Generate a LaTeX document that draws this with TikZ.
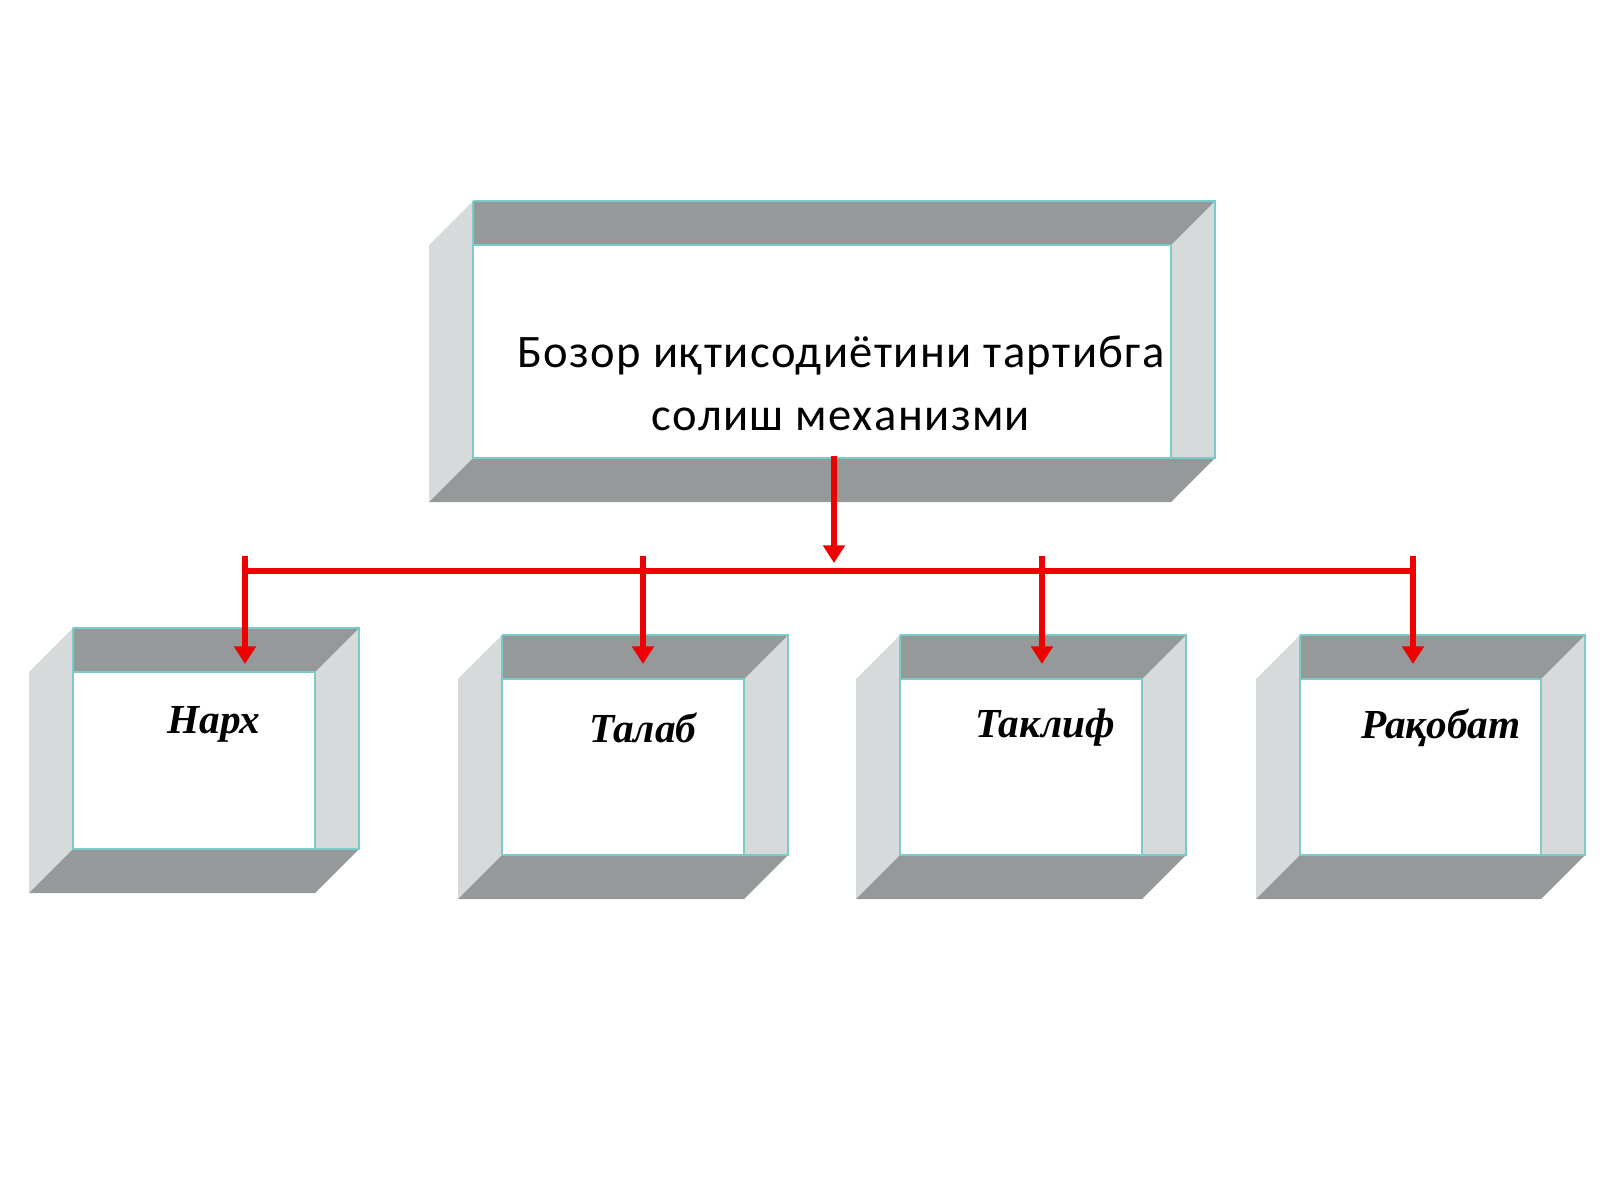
\documentclass[tikz,border=0pt]{standalone}
\usepackage{fontspec}
\setmainfont{Liberation Serif}
\newfontfamily\titlefont[LetterSpace=3]{Carlito}
\usetikzlibrary{arrows.meta}
\definecolor{dk}{RGB}{150,153,153}
\definecolor{lt}{RGB}{214,218,218}
\definecolor{edge}{RGB}{120,205,200}
\definecolor{rd}{RGB}{240,0,0}
\tikzset{
  lbl/.style={font=\fontsize{23.5}{28}\selectfont\bfseries\itshape, anchor=center},
  conn/.style={draw=rd, line width=3.6pt},
  arr/.style={conn, -{Triangle[length=10pt,width=12pt]}}
}
% #1 inner left, #2 inner top, #3 inner right, #4 inner bottom, #5 depth
\newcommand\frbox[5]{%
  \fill[lt] (#1,#2-#5) -- (#1,#4) -- (#1-#5,#4+#5) -- (#1-#5,#2) -- cycle;
  \fill[lt] (#3+#5,#2-#5) -- (#3+#5,#4) -- (#3,#4) -- (#3,#2) -- cycle;
  \fill[dk] (#1,#2-#5) -- (#3+#5,#2-#5) -- (#3,#2) -- (#1,#2) -- cycle;
  \fill[dk] (#1,#4) -- (#3+#5,#4) -- (#3,#4+#5) -- (#1-#5,#4+#5) -- cycle;
  \draw[edge, line width=0.8pt] (#1,#2-#5) -- (#3+#5,#2-#5) -- (#3+#5,#4) -- (#3,#4)
     (#1,#2-#5) -- (#1,#4) -- (#3,#4) -- (#3,#2) -- (#1,#2);
}
\begin{document}
\begin{tikzpicture}[x=0.02cm,y=-0.02cm]
\useasboundingbox[fill=white] (0,0) rectangle (1600,1200);
\frbox{473}{245}{1171}{458}{44}
\frbox{73}{672}{315}{849}{44}
\frbox{502}{679}{744}{855}{44}
\frbox{900}{679}{1142}{855}{44}
\frbox{1300}{679}{1541}{855}{44}
\node[font=\titlefont\fontsize{26.5}{31}\selectfont, align=center] (top) at (841,383)
  {Бозор иқтисодиётини тартибга\\[5pt]солиш механизми};
\node[lbl] (n1) at (214,724) {Нарх};
\node[lbl] (n2) at (643,728) {Талаб};
\node[lbl] (n3) at (1045,728) {Таклиф};
\node[lbl] (n4) at (1441,728) {Рақобат};
\coordinate (s) at (834,456);
\coordinate (j) at (834,563);
\coordinate (b1) at (245,556); \coordinate (e1) at (245,664);
\coordinate (b2) at (643,556); \coordinate (e2) at (643,664);
\coordinate (b3) at (1042,556); \coordinate (e3) at (1042,664);
\coordinate (b4) at (1413,556); \coordinate (e4) at (1413,664);
\draw[conn] (245,571) -- (1413,571);
\draw[arr] (s) -- (j);
\foreach \i in {1,2,3,4} \draw[arr] (b\i) -- (e\i);
\end{tikzpicture}
\end{document}
